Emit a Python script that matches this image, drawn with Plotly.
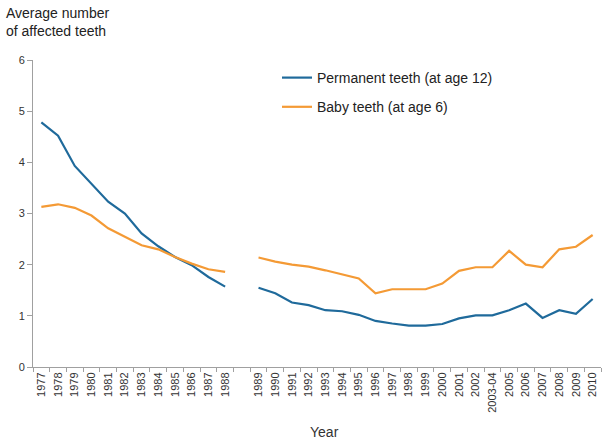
import plotly.graph_objects as go

years = ["1977", "1978", "1979", "1980", "1981", "1982", "1983", "1984", "1985", "1986", "1987", "1988",
         " ",
         "1989", "1990", "1991", "1992", "1993", "1994", "1995", "1996", "1997", "1998", "1999", "2000",
         "2001", "2002", "2003-04", "2005", "2006", "2007", "2008", "2009", "2010"]

permanent = [4.78, 4.52, 3.93, 3.57, 3.23, 3.0, 2.61, 2.36, 2.15, 1.99, 1.76, 1.57,
             None,
             1.55, 1.44, 1.26, 1.21, 1.11, 1.09, 1.02, 0.9, 0.85, 0.81, 0.81, 0.84,
             0.95, 1.01, 1.01, 1.11, 1.24, 0.96, 1.11, 1.04, 1.33]

baby = [3.13, 3.18, 3.11, 2.96, 2.71, 2.54, 2.38, 2.3, 2.15, 2.02, 1.91, 1.86,
        None,
        2.14, 2.06, 2.0, 1.96, 1.89, 1.81, 1.73, 1.44, 1.52, 1.52, 1.52, 1.63,
        1.88, 1.95, 1.95, 2.27, 2.0, 1.95, 2.3, 2.35, 2.58]

BLUE = "#1f6a9b"
ORANGE = "#f49a35"

W, H = 602, 443
ML, MR, MT, MB = 33, 1, 60, 76
PW, PH = W - ML - MR, H - MT - MB

fig = go.Figure()
fig.add_trace(go.Scatter(x=years, y=permanent, mode="lines", name="Permanent teeth (at age 12)",
                         line=dict(color=BLUE, width=2.2), legendgroup="a", connectgaps=False))
fig.add_trace(go.Scatter(x=years, y=baby, mode="lines", name="Baby teeth (at age 6)",
                         line=dict(color=ORANGE, width=2.2), legendgroup="b", connectgaps=False))

fig.update_layout(
    width=W, height=H,
    margin=dict(l=ML, r=MR, t=MT, b=MB, autoexpand=False),
    paper_bgcolor="white", plot_bgcolor="white",
    font=dict(family="Liberation Sans, Arial, sans-serif", color="#333333"),
    showlegend=True,
    legend=dict(x=(277 - ML) / PW, y=1 - (2 / PH), xanchor="left", yanchor="top",
                font=dict(size=14, color="#222222"), tracegroupgap=8,
                bgcolor="rgba(0,0,0,0)", itemwidth=30),
    xaxis=dict(type="category", categoryorder="array", categoryarray=years,
               showline=True, linecolor="#a0a0a0", linewidth=1,
               ticks="outside", tickson="boundaries", ticklen=4, tickcolor="#a0a0a0",
               tickangle=-90, tickfont=dict(size=11, color="#333333"),
               showgrid=False, zeroline=False, range=[-0.5, len(years) - 0.5],
               automargin=False),
    yaxis=dict(range=[0, 6], dtick=1, showline=True, linecolor="#a0a0a0", linewidth=1,
               ticks="outside", ticklen=5, tickcolor="#a0a0a0",
               tickfont=dict(size=11, color="#333333"),
               showgrid=False, zeroline=False, automargin=False),
    annotations=[
        dict(text="Average number<br>of affected teeth", xref="paper", yref="paper",
             x=(4 - ML) / PW, y=1 + (MT - 3) / PH, xanchor="left", yanchor="top",
             showarrow=False, align="left", font=dict(size=14, color="#222222")),
        dict(text="Year", xref="paper", yref="paper",
             x=0.514, y=-(432 - 367) / PH, xanchor="center", yanchor="middle",
             showarrow=False, font=dict(size=14, color="#333333")),
    ],
)

fig.write_html("out.html", config={"displayModeBar": False},
               post_script="document.body.style.margin='0';document.body.style.overflow='hidden';")
